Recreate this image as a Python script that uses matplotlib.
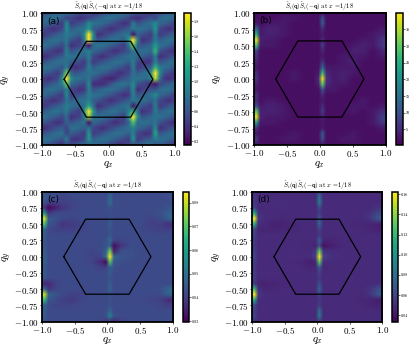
import numpy as np
import matplotlib
matplotlib.use('Agg')
import matplotlib.pyplot as plt
from matplotlib.colors import Normalize
from matplotlib.image import NonUniformImage

plt.rcParams['font.family'] = 'serif'
plt.rcParams['font.serif'] = ['cmr10', 'DejaVu Serif']
plt.rcParams['mathtext.fontset'] = 'cm'
plt.rcParams['axes.formatter.use_mathtext'] = True
plt.rcParams['axes.unicode_minus'] = False

# corners of the zone boundary
hex_x = [-0.667, -0.333, 0.333, 0.667, 0.333, -0.333, -0.667]
hex_y = [0.0, 0.577, 0.577, 0.0, -0.577, -0.577, 0.0]

axis_ticks = ['$-1.00$', '$-0.75$', '$-0.50$', '$-0.25$', '$0.00$', '$0.25$', '$0.50$', '$0.75$', '$1.00$']
x_ticks = ['$-1.0$', '$-0.5$', '$0.0$', '$0.5$', '$1.0$']

# rows run from qy=1 down to qy=-1
qy_nodes = [1, 0.917, 0.833, 0.75, 0.667, 0.583, 0.5, 0.417, 0.333, 0.25, 0.167, 0.083, 0,
            -0.083, -0.167, -0.25, -0.333, -0.417, -0.5, -0.583, -0.667, -0.75, -0.833, -0.917, -1]

# panel a, 32 columns, every 1/15 in qx, value x100
qx_a = [-1.037, -0.97, -0.903, -0.837, -0.77, -0.703, -0.637, -0.57, -0.503, -0.437, -0.37, -0.303, -0.237,
        -0.17, -0.103, -0.037, 0.03, 0.097, 0.163, 0.23, 0.297, 0.363, 0.43, 0.497, 0.563, 0.63, 0.697, 0.763,
        0.83, 0.897, 0.963, 1.03]
z_a = [
 [45, 52, 60, 67, 74, 80, 80, 74, 67, 60, 52, 60, 38, 45, 52, 60, 67, 74, 80, 80, 74, 70, 60, 52, 45, 38, 60, 52, 60, 67, 74, 80],
 [67, 74, 80, 80, 74, 67, 50, 52, 45, 38, 45, 50, 60, 67, 74, 80, 80, 74, 67, 60, 52, 40, 38, 45, 52, 60, 50, 74, 80, 80, 74, 67],
 [80, 74, 67, 60, 52, 45, 100, 45, 52, 60, 67, 100, 80, 80, 74, 67, 60, 52, 45, 38, 45, 90, 60, 67, 74, 80, 100, 74, 67, 60, 52, 45],
 [60, 52, 45, 38, 45, 52, 100, 67, 74, 80, 80, 110, 67, 60, 52, 45, 38, 45, 52, 60, 67, 85, 80, 80, 74, 67, 110, 52, 45, 38, 45, 52],
 [38, 45, 52, 60, 67, 74, 85, 80, 74, 67, 100, 190, 100, 38, 45, 52, 60, 67, 74, 80, 85, 25, 67, 60, 52, 45, 90, 45, 52, 60, 67, 74],
 [60, 67, 74, 80, 80, 74, 85, 60, 52, 45, 90, 190, 90, 60, 67, 74, 80, 80, 74, 67, 110, 190, 90, 38, 45, 52, 85, 67, 74, 80, 80, 74],
 [80, 80, 74, 67, 60, 52, 80, 38, 45, 52, 60, 25, 74, 80, 80, 74, 67, 60, 52, 45, 80, 150, 70, 60, 67, 74, 110, 80, 74, 67, 60, 52],
 [67, 60, 52, 45, 38, 45, 90, 60, 67, 74, 80, 90, 74, 67, 60, 52, 45, 38, 45, 52, 60, 85, 74, 80, 80, 74, 130, 60, 52, 45, 38, 45],
 [45, 38, 45, 52, 60, 67, 85, 80, 80, 74, 67, 90, 52, 45, 38, 45, 52, 60, 67, 74, 80, 80, 74, 67, 60, 52, 90, 38, 45, 52, 60, 67],
 [52, 60, 67, 74, 80, 80, 80, 67, 60, 52, 45, 80, 45, 52, 60, 67, 74, 80, 80, 74, 67, 90, 52, 45, 38, 45, 90, 60, 67, 74, 80, 80],
 [74, 80, 80, 74, 67, 60, 90, 45, 38, 45, 52, 90, 67, 74, 80, 80, 74, 67, 60, 52, 45, 90, 45, 52, 60, 67, 130, 90, 80, 74, 67, 60],
 [74, 67, 60, 52, 45, 70, 150, 70, 60, 67, 74, 80, 80, 74, 67, 60, 52, 45, 38, 45, 52, 80, 67, 74, 80, 100, 190, 100, 60, 52, 45, 38],
 [52, 45, 38, 45, 52, 100, 190, 100, 80, 80, 74, 80, 60, 52, 42, 35, 32, 38, 52, 60, 67, 80, 80, 80, 74, 90, 170, 80, 45, 38, 45, 52],
 [45, 52, 60, 67, 74, 90, 150, 74, 67, 60, 52, 100, 38, 36, 38, 45, 60, 74, 80, 80, 74, 100, 60, 52, 45, 38, 25, 52, 60, 67, 74, 80],
 [67, 74, 80, 80, 74, 67, 90, 52, 45, 38, 45, 90, 60, 67, 74, 80, 80, 74, 67, 60, 52, 100, 38, 45, 52, 60, 60, 74, 80, 80, 74, 67],
 [80, 74, 67, 60, 52, 45, 100, 45, 52, 60, 67, 90, 80, 80, 74, 67, 60, 52, 45, 38, 45, 90, 60, 67, 74, 80, 100, 74, 67, 60, 52, 45],
 [60, 52, 45, 38, 45, 52, 80, 67, 74, 80, 80, 90, 67, 60, 52, 45, 38, 45, 52, 60, 67, 85, 80, 80, 74, 67, 80, 52, 45, 38, 45, 52],
 [38, 45, 52, 60, 67, 74, 90, 80, 74, 67, 80, 120, 80, 38, 45, 52, 60, 67, 74, 80, 85, 25, 67, 60, 52, 45, 90, 45, 52, 60, 67, 74],
 [60, 67, 74, 80, 80, 74, 85, 60, 52, 45, 110, 190, 110, 60, 67, 74, 80, 80, 74, 67, 90, 130, 80, 38, 45, 52, 85, 67, 74, 80, 80, 74],
 [80, 80, 74, 67, 60, 52, 75, 38, 45, 52, 80, 160, 80, 80, 80, 74, 67, 60, 52, 45, 110, 190, 100, 60, 67, 74, 80, 80, 74, 67, 60, 52],
 [67, 60, 52, 45, 38, 45, 70, 60, 67, 74, 80, 25, 74, 67, 60, 52, 45, 38, 45, 52, 70, 140, 74, 80, 80, 74, 80, 60, 52, 45, 38, 45],
 [45, 38, 45, 52, 60, 67, 50, 80, 80, 74, 67, 80, 52, 45, 38, 45, 52, 60, 67, 74, 80, 90, 74, 67, 60, 52, 100, 38, 45, 52, 60, 67],
 [52, 60, 67, 74, 80, 80, 50, 67, 60, 52, 45, 110, 45, 52, 60, 67, 74, 80, 80, 74, 67, 90, 52, 45, 38, 45, 120, 60, 67, 74, 80, 80],
 [74, 80, 80, 74, 67, 60, 90, 45, 38, 45, 52, 110, 67, 74, 80, 80, 74, 67, 60, 52, 45, 110, 45, 52, 60, 67, 90, 80, 80, 74, 67, 60],
 [74, 67, 60, 52, 45, 38, 60, 52, 60, 67, 74, 70, 80, 74, 67, 60, 52, 45, 38, 45, 52, 60, 67, 74, 80, 80, 60, 67, 60, 52, 45, 38],
]

# panels b,c,d share coarser columns, narrow ones at the peaks
qx_nodes = [-1.03, -0.97, -0.91, -0.8, -0.7, -0.55, -0.4, -0.25, -0.1, -0.03, 0.03, 0.09, 0.2, 0.35, 0.5, 0.65, 0.8, 0.92, 1.03]

z_b = [
 [2, 2, 2, 2, 2, 2, 2, 2, 2, 2, 2, 2, 2, 2, 2, 2, 2, 2, 2],
 [2, 2, 2, 2, 2, 3, 3, 2, 2, 2, 10, 2, 2, 2, 2, 2, 2, 2, 2],
 [2, 3, 2, 3, 3, 3, 2, 2, 2, 2, 11, 2, 2, 2, 2, 2, 2, 2, 2],
 [8, 14, 3, 4, 4, 3, 2, 2, 2, 2, 5, 2, 2, 2, 2, 2, 2, 3, 3],
 [20, 25, 3, 4, 4, 3, 2, 2, 2, 2, 3, 2, 2, 2, 2, 2, 3, 4, 5],
 [36, 38, 4, 3, 3, 2, 2, 2, 2, 2, 5, 2, 2, 2, 2, 3, 3, 6, 9],
 [25, 28, 3, 3, 3, 2, 2, 2, 2, 2, 7, 2, 2, 2, 3, 4, 3, 6, 9],
 [6, 8, 2, 2, 2, 2, 2, 2, 2, 2, 4, 2, 2, 2, 4, 4, 2, 4, 6],
 [5, 6, 2, 2, 2, 2, 2, 2, 2, 2, 3, 2, 2, 3, 3, 3, 2, 3, 3],
 [3, 4, 2, 2, 2, 2, 2, 2, 2, 2, 6, 2, 2, 3, 4, 2, 2, 2, 2],
 [2, 3, 2, 2, 2, 2, 2, 2, 2, 2, 13, 3, 3, 3, 3, 2, 2, 2, 2],
 [4, 5, 2, 2, 2, 2, 3, 2, 2, 3, 27, 5, 3, 4, 3, 2, 2, 2, 2],
 [5, 6, 2, 2, 2, 2, 3, 2, 2, 5, 38, 6, 3, 4, 2, 2, 2, 2, 2],
 [3, 4, 2, 2, 2, 2, 2, 2, 2, 4, 30, 5, 3, 3, 2, 2, 2, 2, 2],
 [2, 3, 2, 2, 2, 2, 2, 2, 2, 2, 10, 3, 3, 2, 2, 2, 2, 2, 2],
 [5, 6, 2, 2, 2, 2, 2, 2, 2, 2, 5, 2, 2, 2, 2, 2, 2, 2, 2],
 [4, 5, 2, 3, 3, 2, 2, 2, 2, 2, 3, 2, 2, 2, 2, 3, 2, 2, 2],
 [6, 9, 3, 4, 4, 3, 2, 2, 2, 2, 5, 2, 2, 2, 3, 3, 2, 3, 3],
 [28, 30, 4, 4, 4, 3, 2, 2, 2, 2, 7, 2, 2, 2, 3, 2, 3, 5, 7],
 [36, 38, 4, 3, 3, 3, 2, 2, 2, 2, 4, 2, 2, 2, 2, 2, 3, 7, 10],
 [18, 22, 3, 3, 3, 2, 2, 2, 2, 2, 3, 2, 2, 2, 2, 2, 3, 6, 8],
 [5, 6, 2, 2, 2, 2, 2, 2, 2, 2, 3, 2, 2, 2, 2, 2, 2, 3, 3],
 [2, 3, 2, 2, 2, 2, 3, 2, 2, 2, 11, 2, 2, 2, 3, 2, 2, 2, 2],
 [5, 7, 2, 2, 2, 3, 3, 2, 2, 2, 9, 2, 2, 3, 3, 2, 2, 2, 2],
 [2, 3, 2, 2, 2, 2, 2, 2, 2, 2, 3, 2, 2, 2, 2, 2, 2, 2, 2],
]

# value x1000
z_c = [
 [43, 45, 43, 42, 42, 42, 42, 42, 42, 42, 44, 42, 42, 42, 42, 42, 42, 43, 43],
 [43, 45, 43, 42, 41, 42, 42, 42, 42, 42, 48, 42, 42, 42, 42, 42, 42, 43, 43],
 [42, 44, 40, 40, 40, 41, 42, 42, 42, 42, 50, 42, 42, 42, 42, 42, 42, 42, 42],
 [36, 38, 31, 34, 38, 41, 42, 42, 42, 42, 44, 42, 42, 42, 42, 42, 42, 44, 44],
 [56, 58, 38, 42, 42, 42, 42, 42, 42, 42, 42, 42, 42, 42, 42, 42, 43, 46, 48],
 [78, 80, 46, 43, 42, 41, 42, 42, 42, 42, 44, 42, 42, 42, 42, 41, 42, 46, 49],
 [66, 68, 44, 42, 38, 39, 41, 42, 42, 42, 46, 42, 42, 42, 42, 40, 40, 37, 36],
 [46, 48, 42, 40, 40, 40, 41, 42, 42, 42, 44, 42, 42, 42, 42, 41, 40, 40, 41],
 [45, 46, 42, 42, 42, 42, 42, 42, 42, 42, 44, 42, 42, 42, 42, 42, 42, 42, 42],
 [44, 45, 42, 42, 42, 42, 42, 42, 42, 43, 49, 41, 41, 42, 42, 42, 42, 42, 42],
 [44, 44, 42, 42, 42, 42, 42, 42, 42, 44, 46, 32, 38, 42, 42, 42, 42, 42, 42],
 [45, 46, 42, 42, 42, 42, 42, 41, 42, 46, 72, 34, 43, 43, 42, 42, 42, 42, 42],
 [46, 47, 42, 42, 42, 42, 42, 41, 41, 50, 84, 48, 44, 43, 42, 42, 42, 42, 42],
 [45, 46, 42, 42, 42, 42, 42, 41, 36, 31, 70, 44, 43, 42, 42, 42, 42, 42, 42],
 [44, 45, 42, 42, 42, 42, 42, 42, 40, 40, 46, 43, 42, 42, 42, 42, 42, 42, 42],
 [44, 45, 42, 42, 42, 42, 42, 42, 42, 42, 46, 42, 42, 42, 42, 42, 42, 42, 42],
 [44, 44, 42, 42, 42, 42, 42, 42, 42, 42, 44, 42, 42, 42, 42, 42, 42, 42, 42],
 [36, 36, 36, 40, 42, 42, 42, 42, 42, 42, 46, 42, 42, 42, 42, 42, 42, 42, 42],
 [46, 48, 38, 41, 42, 42, 42, 42, 42, 42, 47, 42, 42, 42, 42, 42, 43, 47, 50],
 [78, 80, 48, 44, 42, 40, 41, 42, 42, 42, 44, 42, 42, 42, 42, 42, 42, 47, 48],
 [64, 66, 44, 42, 40, 39, 41, 42, 42, 42, 43, 42, 42, 42, 42, 41, 40, 36, 35],
 [46, 47, 42, 41, 41, 41, 42, 42, 42, 42, 43, 42, 42, 42, 42, 42, 41, 40, 40],
 [45, 46, 42, 42, 42, 42, 42, 42, 42, 42, 48, 42, 42, 42, 42, 42, 42, 42, 42],
 [44, 45, 42, 42, 42, 42, 42, 42, 42, 43, 54, 43, 42, 42, 42, 42, 42, 42, 42],
 [43, 43, 42, 42, 42, 42, 42, 42, 41, 38, 37, 36, 40, 42, 42, 42, 42, 43, 43],
]

# value x1000
z_d = [
 [50, 52, 50, 49, 49, 49, 49, 49, 49, 49, 60, 49, 49, 49, 49, 49, 49, 49, 49],
 [50, 54, 50, 50, 50, 50, 49, 49, 49, 49, 80, 49, 49, 49, 49, 49, 49, 49, 49],
 [50, 54, 50, 50, 50, 50, 49, 49, 49, 49, 88, 49, 49, 49, 49, 49, 49, 49, 50],
 [54, 60, 48, 49, 50, 50, 49, 49, 49, 49, 62, 49, 49, 49, 49, 49, 49, 52, 52],
 [105, 110, 52, 50, 50, 49, 49, 49, 49, 49, 56, 49, 49, 49, 49, 49, 52, 60, 64],
 [155, 160, 54, 50, 49, 48, 49, 49, 49, 49, 70, 49, 49, 49, 49, 49, 52, 66, 75],
 [110, 115, 50, 49, 46, 46, 48, 49, 49, 49, 76, 49, 49, 49, 49, 48, 47, 46, 44],
 [58, 62, 47, 47, 47, 47, 48, 49, 49, 49, 58, 49, 49, 49, 49, 49, 48, 46, 45],
 [54, 58, 49, 49, 49, 49, 49, 49, 49, 49, 54, 49, 49, 49, 49, 49, 49, 49, 49],
 [52, 56, 49, 49, 49, 49, 49, 49, 49, 49, 72, 48, 47, 49, 49, 49, 49, 49, 49],
 [52, 54, 49, 49, 49, 49, 49, 49, 48, 46, 62, 40, 44, 48, 49, 49, 49, 49, 49],
 [54, 58, 49, 49, 49, 49, 49, 49, 50, 55, 130, 52, 50, 50, 49, 49, 49, 49, 49],
 [56, 60, 49, 49, 49, 49, 50, 50, 50, 60, 160, 60, 52, 50, 49, 49, 49, 49, 49],
 [52, 56, 49, 49, 49, 49, 49, 48, 44, 48, 130, 50, 50, 49, 49, 49, 49, 49, 49],
 [52, 54, 49, 49, 49, 49, 49, 49, 47, 48, 70, 48, 49, 49, 49, 49, 49, 49, 49],
 [52, 56, 49, 49, 49, 49, 49, 49, 49, 49, 58, 49, 49, 49, 49, 49, 49, 49, 49],
 [52, 56, 49, 49, 49, 49, 49, 49, 49, 49, 54, 49, 49, 49, 49, 49, 49, 49, 49],
 [52, 56, 46, 46, 47, 48, 49, 49, 49, 49, 64, 49, 49, 49, 49, 49, 49, 50, 52],
 [115, 120, 50, 47, 48, 49, 49, 49, 49, 49, 74, 49, 49, 49, 49, 49, 52, 62, 68],
 [155, 160, 54, 50, 49, 49, 49, 49, 49, 49, 60, 49, 49, 49, 49, 49, 52, 66, 75],
 [105, 110, 50, 49, 49, 49, 49, 49, 49, 49, 54, 49, 49, 49, 49, 48, 47, 44, 42],
 [58, 62, 49, 49, 49, 49, 49, 49, 49, 49, 56, 49, 49, 49, 49, 49, 47, 46, 46],
 [54, 58, 49, 49, 49, 49, 49, 49, 49, 49, 78, 49, 49, 49, 49, 49, 49, 49, 49],
 [56, 60, 49, 49, 49, 49, 49, 49, 49, 49, 84, 49, 49, 49, 49, 49, 49, 49, 49],
 [50, 52, 49, 49, 49, 49, 49, 49, 49, 49, 56, 49, 49, 49, 49, 49, 49, 49, 49],
]

cb_a = [0.2, 0.4, 0.6, 0.8, 1.0, 1.2, 1.4, 1.6, 1.8]
cb_b = [5, 10, 15, 20, 25, 30, 35]
cb_c = [0.03, 0.04, 0.05, 0.06, 0.07, 0.08]
cb_d = [0.04, 0.06, 0.08, 0.10, 0.12, 0.14, 0.16]

fig = plt.figure(figsize=(4.15, 3.51), dpi=100)
W, H = 415.0, 351.0


def panel(box, cbox, qx, z, vmin, vmax, cticks, cfmt, letter):
    # box and cbox are left, right, top, bottom in pixels
    ax = fig.add_axes([box[0] / W, 1 - box[3] / H, (box[1] - box[0]) / W, (box[3] - box[2]) / H])
    im = NonUniformImage(ax, interpolation='bilinear', cmap='viridis', norm=Normalize(vmin, vmax))
    # image wants qy going up
    im.set_data(qx, qy_nodes[::-1], np.array(z, dtype=float)[::-1])
    ax.add_image(im)
    ax.plot(hex_x, hex_y, color='k', lw=0.9)
    ax.set_xlim(-1, 1)
    ax.set_ylim(-1, 1)
    ax.set_xticks([-1, -0.5, 0, 0.5, 1])
    ax.set_xticklabels(x_ticks)
    ax.set_yticks(np.linspace(-1, 1, 9))
    ax.set_yticklabels(axis_ticks)
    ax.tick_params(labelsize=6.5, width=0.5, length=1.5, pad=1)
    ax.set_xlabel('$q_x$', fontsize=8)
    ax.set_ylabel('$q_y$', fontsize=8)
    ax.xaxis.set_label_coords(0.5, -0.105)
    ax.yaxis.set_label_coords(-0.215, 0.5)
    ax.set_title(r'$\tilde{S}_i(\mathbf{q})\tilde{S}_i(-\mathbf{q})$ at $x$ =1/18', fontsize=4.6, pad=1.5)
    for s in ax.spines.values():
        s.set_linewidth(1.3)
    ax.text(0.04, 0.94, letter, transform=ax.transAxes, family='DejaVu Sans', fontsize=6.5, va='center', ha='left')
    cax = fig.add_axes([cbox[0] / W, 1 - box[3] / H, (cbox[1] - cbox[0]) / W, (box[3] - box[2]) / H])
    cb = fig.colorbar(im, cax=cax)
    cb.set_ticks(cticks)
    cb.set_ticklabels([cfmt % t for t in cticks])
    cb.ax.tick_params(labelsize=3, width=0.4, length=1.2, pad=1)
    cb.outline.set_linewidth(1.1)


panel((42, 175, 13.5, 145), (184, 191), qx_a, np.array(z_a) / 100, 0.15, 1.9, cb_a, '%.1f', '(a)')
panel((253.7, 386, 13, 145), (395.7, 402.7), qx_nodes, z_b, 0.3, 39.9, cb_b, '%d', '(b)')
panel((42, 172.7, 191.7, 321.7), (182.7, 189), qx_nodes, np.array(z_c) / 1000, 0.0297, 0.0846, cb_c, '%.2f', '(c)')
panel((252.3, 382.3, 191.7, 321.7), (392, 398), qx_nodes, np.array(z_d) / 1000, 0.0335, 0.1625, cb_d, '%.2f', '(d)')

fig.savefig('out.png', dpi=100)
